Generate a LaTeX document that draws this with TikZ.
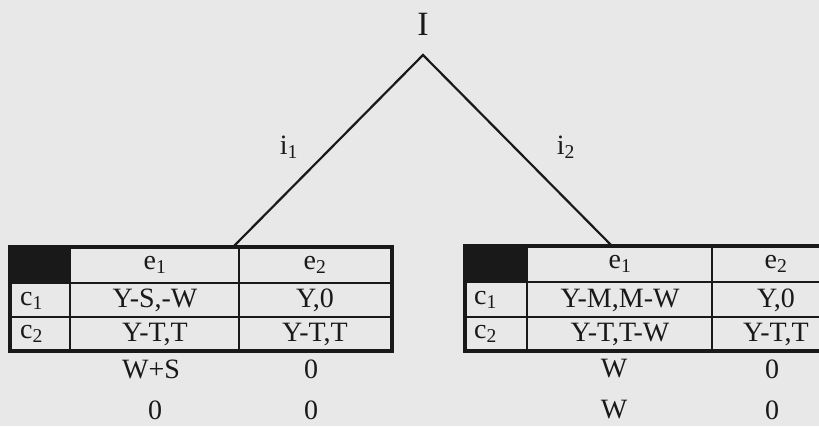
\documentclass[tikz,border=0pt]{standalone}
\usepackage{fontspec}
\setmainfont{Liberation Serif}
\definecolor{bg}{RGB}{232,232,232}
\definecolor{ink}{RGB}{25,25,25}
\tikzset{
  branch/.style={draw=ink, line width=2.2pt},
  outer/.style={draw=ink, line width=4pt},
  inner/.style={draw=ink, line width=2.6pt},
  txt/.style={inner sep=0pt, text=ink, font=\fontsize{28}{28}\selectfont},
  big/.style={inner sep=0pt, text=ink, font=\fontsize{34}{34}\selectfont},
}
\newcommand{\sbx}[1]{\textsubscript{#1}}
\begin{document}
\begin{tikzpicture}[x=1pt,y=-1pt]
\useasboundingbox (0,0) rectangle (819,426);
\clip (0,0) rectangle (819,426);
\fill[bg] (0,0) rectangle (819,426);
% tree
\node[big] (I) at (423,24) {I};
\coordinate (top) at (423,55);
\coordinate (L) at (233,247);
\coordinate (R) at (612,246);
\draw[branch] (L) -- (top) -- (R);
\node[txt] (i1) at (289,147) {i\sbx{1}};
\node[txt] (i2) at (566,147) {i\sbx{2}};
% left table
\fill[ink] (10,247) rectangle (70,283);
\draw[inner] (10,283) -- (392,283) (10,317) -- (392,317) (70,247) -- (70,351) (239,247) -- (239,351);
\draw[outer] (10,247) rectangle (392,351);
\node[txt] (le1) at (155,265) {e\sbx{1}};
\node[txt] (le2) at (315,265) {e\sbx{2}};
\node[txt, anchor=west] (lc1) at (20,301) {c\sbx{1}};
\node[txt, anchor=west] (lc2) at (20,334) {c\sbx{2}};
\node[txt] (l11) at (155,300) {Y-S,-W};
\node[txt] (l12) at (315,300) {Y,0};
\node[txt] (l21) at (155,334) {Y-T,T};
\node[txt] (l22) at (315,334) {Y-T,T};
\node[txt] (lb11) at (151,369) {W+S};
\node[txt] (lb12) at (311,369) {0};
\node[txt] (lb21) at (155,410) {0};
\node[txt] (lb22) at (311,410) {0};
% right table
\fill[ink] (465,246) rectangle (527,282);
\draw[inner] (465,282) -- (840,282) (465,317) -- (840,317) (527,246) -- (527,351) (712,246) -- (712,351);
\draw[outer] (465,246) rectangle (840,351);
\node[txt] (re1) at (620,264) {e\sbx{1}};
\node[txt] (re2) at (776,264) {e\sbx{2}};
\node[txt, anchor=west] (rc1) at (474,300) {c\sbx{1}};
\node[txt, anchor=west] (rc2) at (474,334) {c\sbx{2}};
\node[txt] (r11) at (620,300) {Y-M,M-W};
\node[txt] (r12) at (776,300) {Y,0};
\node[txt] (r21) at (620,334) {Y-T,T-W};
\node[txt] (r22) at (776,334) {Y-T,T};
\node[txt] (rb11) at (614,369) {W};
\node[txt] (rb12) at (772,369) {0};
\node[txt] (rb21) at (614,410) {W};
\node[txt] (rb22) at (772,410) {0};
\end{tikzpicture}
\end{document}
